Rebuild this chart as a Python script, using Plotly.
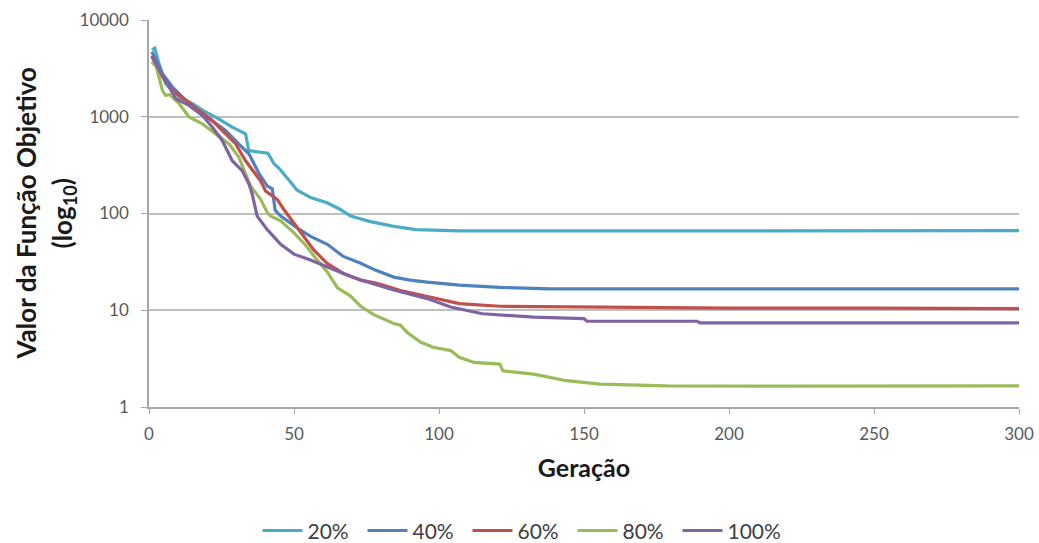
import plotly.graph_objects as go

# Generation (x) and objective value (y)
gen_20 = [1, 2, 3.4, 5.7, 10.4, 15, 19.5, 24, 28.7, 33.3, 34.4, 38.5, 41, 43, 45, 48.5, 51,
          55.7, 61.4, 66, 69.5, 76, 84, 92, 100, 107, 150, 200, 250, 300]
val_20 = [4900, 5100, 3600, 2200, 1600, 1370, 1120, 950, 780, 665, 446, 430, 420, 330, 290, 217, 175,
          146, 129, 110, 94, 83, 74, 68, 67, 66, 66, 66, 66, 66.5]

gen_40 = [1, 4.6, 8, 11.5, 16, 20.7, 26.4, 31, 34.5, 37.9, 40.8, 42.5, 43.5, 45.4, 50, 52, 55.7,
          61.5, 67, 73, 78, 84.4, 90, 96, 107, 121, 138, 200, 250, 300]
val_40 = [4700, 2800, 2040, 1600, 1210, 950, 720, 520, 412, 260, 192, 180, 108, 94, 74, 68, 58,
          48, 36, 30.6, 26, 22, 20.5, 19.5, 18.2, 17.2, 16.6, 16.6, 16.6, 16.6]

gen_60 = [1, 4.6, 8, 12.6, 17.2, 21.8, 26.4, 29.9, 33.3, 36.7, 38.5, 40.2, 44.2, 46.5, 50, 53.4,
          56.8, 61.4, 67, 73, 78.6, 86.7, 96, 107, 121, 155, 200, 250, 300]
val_60 = [4300, 2590, 1880, 1480, 1160, 915, 665, 523, 351, 255, 217, 171, 140, 110, 80, 58,
          42, 30.6, 24, 20.5, 19, 16, 13.8, 11.7, 11, 10.7, 10.5, 10.5, 10.4]

gen_80 = [1, 2.5, 4.6, 5.7, 7, 10.4, 13.8, 18.4, 23, 27.6, 31, 33.3, 35, 38.5, 40.8, 42, 45.4,
          50, 54, 57, 61.4, 65, 69.5, 73, 77.5, 84.4, 86.7, 89, 93.6, 98, 104, 107, 112, 121,
          122, 132.6, 144, 155.5, 178.5, 220, 260, 300]
val_80 = [3700, 3300, 1880, 1660, 1700, 1365, 993, 845, 665, 523, 380, 255, 192, 140, 102, 94, 84,
          63, 47, 36, 25, 17, 14, 11, 9, 7.3, 7, 5.9, 4.7, 4.15, 3.83, 3.26, 2.89, 2.78,
          2.37, 2.19, 1.87, 1.72, 1.65, 1.64, 1.65, 1.65]

gen_100 = [1, 3.5, 6.9, 9.2, 13.8, 18.4, 21.8, 25.3, 28.7, 32.2, 34.5, 35.6, 37.3, 40.8, 45.4,
           50, 55.7, 61.4, 67, 73, 84.4, 96, 104, 115, 132.6, 150, 151, 189, 190, 250, 300]
val_100 = [4200, 3040, 2040, 1540, 1310, 1030, 782, 566, 351, 275, 200, 158, 94, 68, 48,
           38, 33, 28, 24, 20.5, 16.2, 13.2, 10.8, 9.2, 8.5, 8.2, 7.7, 7.7, 7.4, 7.4, 7.4]

series_names = ["20%", "40%", "60%", "80%", "100%"]
series_colors = ["#4BACC6", "#4F81BD", "#C0504D", "#9BBB59", "#8064A2"]

y_tickvals = [1, 10, 100, 1000, 10000]
y_ticktext = ["1", "10", "100", "1000", "10000"]
x_tickvals = [0, 50, 100, 150, 200, 250, 300]

y_title_line1 = "Valor da Função Objetivo"
y_title_line2 = "(log<sub>10</sub>)"
x_title = "Geração"

data = [(gen_20, val_20), (gen_40, val_40), (gen_60, val_60), (gen_80, val_80), (gen_100, val_100)]

fig = go.Figure()
for (gx, gy), name, col in zip(data, series_names, series_colors):
    fig.add_trace(go.Scatter(x=gx, y=gy, mode="lines", name=name,
                             line=dict(color=col, width=3.2)))

font_family = "Lato, 'Open Sans', sans-serif"
L, R, T, B, W, H = 149, 20, 20, 136, 1039, 543
pw = W - L - R

def px_to_paper_x(px):
    return (px - L) / pw

title_font = dict(family=font_family, size=26, color="#1a1a1a")
fig.add_annotation(text="<b>" + y_title_line1 + "</b>", textangle=-90, showarrow=False,
                   xref="paper", yref="paper", x=px_to_paper_x(25), y=0.5,
                   xanchor="center", yanchor="middle", font=title_font)
fig.add_annotation(text="<b>" + y_title_line2 + "</b>", textangle=-90, showarrow=False,
                   xref="paper", yref="paper", x=px_to_paper_x(63), y=0.5,
                   xanchor="center", yanchor="middle", font=title_font)

fig.update_layout(
    width=W, height=H,
    margin=dict(l=L, r=R, t=T, b=B, autoexpand=False),
    paper_bgcolor="white", plot_bgcolor="white",
    font=dict(family=font_family, color="#595959", size=16),
    showlegend=True,
    legend=dict(orientation="h", x=0.4264, xanchor="center", y=-0.320, yanchor="middle",
                font=dict(size=21, color="#404040"), traceorder="normal",
                itemwidth=40, entrywidth=50, bgcolor="rgba(0,0,0,0)"),
    xaxis=dict(range=[0, 300], tickvals=x_tickvals, showgrid=False, zeroline=False,
               showline=True, linecolor="#A6A6A6", linewidth=1.5,
               ticks="outside", ticklen=5, tickcolor="#A6A6A6", ticklabelstandoff=6,
               tickfont=dict(size=17, color="#595959"),
               title=dict(text="<b>" + x_title + "</b>", font=dict(size=25, color="#1a1a1a"), standoff=16)),
    yaxis=dict(type="log", range=[0, 4], tickvals=y_tickvals, ticktext=y_ticktext,
               showgrid=True, gridcolor="#BFBFBF", gridwidth=1.5, zeroline=False,
               showline=True, linecolor="#A6A6A6", linewidth=1.5,
               ticks="outside", ticklen=6, tickcolor="#A6A6A6", ticklabelstandoff=9,
               tickfont=dict(size=17, color="#595959")),
)

fig.write_html("out.html", post_script="document.body.style.margin='0';",
               config={"displayModeBar": False})
